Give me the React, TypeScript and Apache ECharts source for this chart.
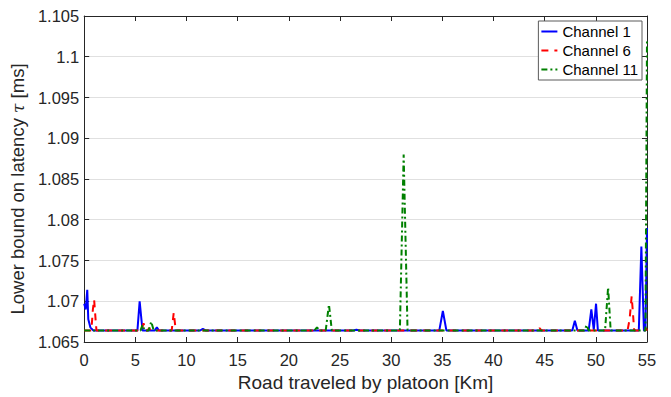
import React, { useEffect, useRef } from "react";
import * as echarts from "echarts";

const xTicks = { min: 0, max: 55, interval: 5 };
const yTicks = { min: 1.065, max: 1.105, interval: 0.005 };

const ch1Km = [0, 0.15, 0.3, 0.4, 0.6, 0.9, 5.2, 5.42, 5.7, 6.9, 7.1, 7.3, 11.3, 11.6, 11.9, 26.3, 26.6, 26.9, 34.7, 35.05, 35.4, 47.7, 47.95, 48.2, 49.3, 49.56, 49.8, 50.02, 50.2, 54.2, 54.45, 54.7, 54.85, 55];
const ch1Val = [1.0697, 1.069, 1.0714, 1.0678, 1.0668, 1.0664, 1.0664, 1.07, 1.0664, 1.0664, 1.0668, 1.0664, 1.0664, 1.0666, 1.0664, 1.0664, 1.0665, 1.0664, 1.0664, 1.0688, 1.0664, 1.0664, 1.0676, 1.0664, 1.0664, 1.069, 1.0665, 1.0697, 1.0664, 1.0664, 1.0767, 1.0664, 1.0664, 1.079];

const ch6Km = [0, 0.7, 0.85, 0.97, 1.1, 1.2, 5.6, 5.8, 6.0, 6.2, 6.35, 6.5, 8.55, 8.75, 8.95, 44.3, 44.5, 44.7, 53.1, 53.3, 53.5, 53.6, 53.75, 54.8, 54.9, 55];
const ch6Val = [1.0664, 1.0664, 1.069, 1.0702, 1.068, 1.0664, 1.0664, 1.0673, 1.0664, 1.0664, 1.0667, 1.0664, 1.0664, 1.0686, 1.0664, 1.0664, 1.0667, 1.0664, 1.0664, 1.0678, 1.0706, 1.069, 1.0664, 1.0664, 1.0667, 1.0664];

const ch11Km = [0, 5.5, 5.7, 5.9, 6.3, 6.55, 6.8, 22.5, 22.75, 23.0, 23.6, 23.92, 24.2, 30.85, 31.22, 31.6, 48.9, 49.1, 49.3, 50.9, 51.2, 51.45, 54.85, 55];
const ch11Val = [1.0664, 1.0664, 1.0671, 1.0664, 1.0664, 1.0675, 1.0664, 1.0664, 1.0668, 1.0664, 1.0664, 1.0696, 1.0664, 1.0664, 1.088, 1.0664, 1.0664, 1.0671, 1.0664, 1.0664, 1.0717, 1.0664, 1.0664, 1.1022];

const seriesNames = ["Channel 1", "Channel 6", "Channel 11"];

const FONT = "'Liberation Sans', Arial, Helvetica, sans-serif";
const AXIS = "#262626";

function pairs(xs: number[], ys: number[]) {
  return xs.map((x, i) => [x, ys[i]]);
}

export default function App() {
  const ref = useRef<HTMLDivElement>(null);
  useEffect(() => {
    if (!ref.current) return;
    const chart = echarts.init(ref.current, null, { renderer: "svg" });
    const yFmt = (v: number) => String(parseFloat(v.toFixed(3)));
    const commonX = {
      type: "value" as const,
      min: xTicks.min,
      max: xTicks.max,
      interval: xTicks.interval,
      axisLine: { show: true, onZero: false, lineStyle: { color: AXIS, width: 1 } },
      axisTick: { show: true, inside: true, length: 5, lineStyle: { color: AXIS } },
      splitLine: { show: false },
    };
    const commonY = {
      type: "value" as const,
      min: yTicks.min,
      max: yTicks.max,
      interval: yTicks.interval,
      axisLine: { show: true, onZero: false, lineStyle: { color: AXIS, width: 1 } },
      axisTick: { show: true, inside: true, length: 5, lineStyle: { color: AXIS } },
    };
    chart.setOption({
      animation: false,
      backgroundColor: "#ffffff",
      grid: { left: 82, top: 16, right: 24, bottom: 54, containLabel: false },
      legend: {
        orient: "vertical",
        right: 29,
        top: 21,
        backgroundColor: "#ffffff",
        borderColor: "#5a5a5a",
        borderWidth: 1,
        borderRadius: 0,
        padding: [3, 4, 3, 2],
        itemWidth: 16,
        itemHeight: 14,
        itemGap: 4,
        itemStyle: { opacity: 0, borderWidth: 0, color: "rgba(0,0,0,0)" },
        textStyle: { fontSize: 15, color: "#000", fontFamily: FONT },
        data: seriesNames,
      },
      xAxis: [
        {
          ...commonX,
          position: "bottom",
          name: "Road traveled by platoon [Km]",
          nameLocation: "middle",
          nameGap: 31,
          nameTextStyle: { fontSize: 19, color: AXIS, fontFamily: FONT },
          axisLabel: { show: true, margin: 9, fontSize: 16.5, color: AXIS, fontFamily: FONT },
        },
        {
          ...commonX,
          position: "top",
          axisLabel: { show: false },
        },
      ],
      yAxis: [
        {
          ...commonY,
          position: "left",
          name: "Lower bound on latency {i|τ} [ms]",
          nameLocation: "middle",
          nameGap: 49,
          nameTextStyle: {
            fontSize: 18.5,
            color: AXIS,
            fontFamily: FONT,
            padding: [0, 20, 0, 0],
            rich: {
              i: { fontSize: 17, fontStyle: "italic", fontFamily: "'DejaVu Serif', serif", color: AXIS },
            },
          },
          axisLabel: { show: true, margin: 5, fontSize: 16.5, color: AXIS, fontFamily: FONT, formatter: yFmt },
          splitLine: { show: true, lineStyle: { color: "#e0e0e0", width: 1 } },
        },
        {
          ...commonY,
          position: "right",
          axisLabel: { show: false },
          splitLine: { show: false },
        },
      ],
      series: [
        {
          name: seriesNames[0],
          type: "line",
          symbol: "none",
          data: pairs(ch1Km, ch1Val),
          lineStyle: { color: "#0000ff", width: 2 },
          itemStyle: { color: "#0000ff" },
        },
        {
          name: seriesNames[1],
          type: "line",
          symbol: "none",
          data: pairs(ch6Km, ch6Val),
          lineStyle: { color: "#ff0000", width: 2, type: [7, 6] },
          itemStyle: { color: "#ff0000" },
        },
        {
          name: seriesNames[2],
          type: "line",
          symbol: "none",
          data: pairs(ch11Km, ch11Val),
          lineStyle: { color: "#008000", width: 2, type: [6, 3, 2, 3] },
          itemStyle: { color: "#008000" },
        },
      ],
    });
    return () => chart.dispose();
  }, []);
  return (
    <div
      ref={ref}
      style={{ position: "fixed", left: 0, top: 0, width: 671, height: 397, background: "#fff" }}
    />
  );
}
